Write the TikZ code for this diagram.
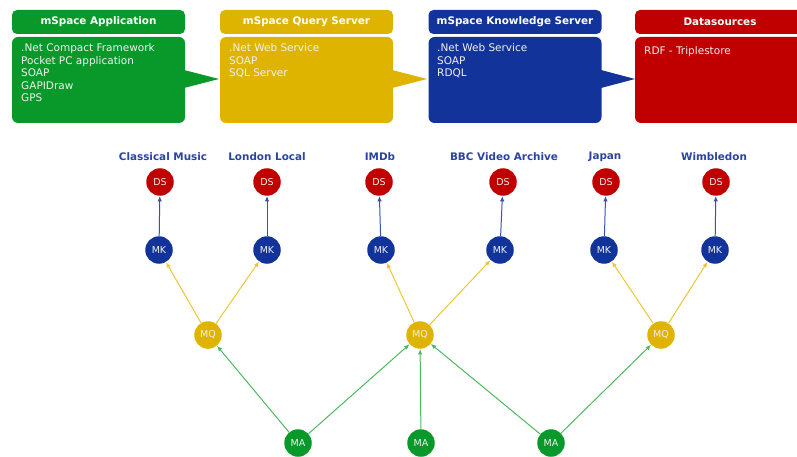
\documentclass[tikz,border=0pt]{standalone}
\usepackage{fontspec}
\setmainfont{DejaVu Sans}
\usetikzlibrary{arrows.meta}
\definecolor{cgreen}{HTML}{08992A}
\definecolor{cyellow}{HTML}{DFB400}
\definecolor{cblue}{HTML}{12339A}
\definecolor{cred}{HTML}{C00000}
\definecolor{lgreen}{HTML}{4DB85E}
\definecolor{lyellow}{HTML}{EEC634}
\definecolor{lblue}{HTML}{3552B0}
\definecolor{ctitle}{HTML}{2A44A0}
\definecolor{ctext}{HTML}{F0F0F0}
\tikzset{
  hdr/.style={rounded corners=5pt, minimum width=173pt, minimum height=24pt, inner sep=0pt,
    text=white, font=\fontsize{10.4}{12}\selectfont\bfseries},
  bodybox/.style={rounded corners=6pt, minimum width=173pt, minimum height=86pt, inner sep=0pt},
  bodytext/.style={anchor=north west, inner sep=0pt, text=ctext, align=left,
    font=\fontsize{10.5}{12.5}\selectfont},
  gnode/.style={circle, minimum size=27.5pt, inner sep=0pt, text=ctext,
    font=\fontsize{9.5}{10}\selectfont},
  ds/.style={gnode, fill=cred},
  mk/.style={gnode, fill=cblue},
  mq/.style={gnode, fill=cyellow},
  ma/.style={gnode, fill=cgreen},
  lab/.style={text=ctitle, font=\fontsize{10.4}{12}\selectfont\bfseries, inner sep=0pt},
  tip/.style={-{Latex[length=5.5pt,width=4.5pt]}},
  gline/.style={lgreen, line width=1pt, tip},
  yline/.style={lyellow, line width=1pt, tip},
  bline/.style={lblue, line width=1pt, tip},
}
\begin{document}
\begin{tikzpicture}[x=1pt,y=-1pt]
\useasboundingbox (0,0) rectangle (797,457);
\begin{scope}
\clip (0,0) rectangle (797,457);
% top boxes
\node[hdr, fill=cgreen] (ha) at (98.5,22) {mSpace Application};
\node[bodybox, fill=cgreen] (ba) at (98.5,80) {};
\node[hdr, fill=cyellow] (hq) at (306.5,22) {mSpace Query Server};
\node[bodybox, fill=cyellow] (bq) at (306.5,80) {};
\node[hdr, fill=cblue] (hk) at (515,22) {mSpace Knowledge Server};
\node[bodybox, fill=cblue] (bk) at (515,80) {};
\node[hdr, fill=cred, minimum width=180pt] (hd) at (725,22) {\hspace*{-10pt}Datasources};
\node[bodybox, fill=cred, minimum width=180pt] (bd) at (725,80) {};
% callouts
\fill[cgreen] (184,70) -- (219,79) -- (184,88) -- cycle;
\fill[cyellow] (392,70) -- (427,79) -- (392,88) -- cycle;
\fill[cblue] (601,70) -- (635,79) -- (601,88) -- cycle;
% body texts
\node[bodytext] (ta) at (21,43.5) {.Net Compact Framework\\Pocket PC application\\SOAP\\GAPIDraw\\GPS};
\node[bodytext] (tq) at (229,43.5) {.Net Web Service\\SOAP\\SQL Server};
\node[bodytext] (tk) at (437,43.5) {.Net Web Service\\SOAP\\RDQL};
\node[bodytext] (td) at (644,46) {RDF - Triplestore};
% labels
\node[lab] (l1) at (163,157) {Classical Music};
\node[lab] (l2) at (267,157) {London Local};
\node[lab] (l3) at (380,157) {IMDb};
\node[lab] (l4) at (504,157) {BBC Video Archive};
\node[lab] (l5) at (605,157) {Japan};
\node[lab] (l6) at (714,157) {Wimbledon};
% DS
\node[ds] (ds1) at (160,182) {DS};
\node[ds] (ds2) at (267,182) {DS};
\node[ds] (ds3) at (379,182) {DS};
\node[ds] (ds4) at (503,182) {DS};
\node[ds] (ds5) at (606,182) {DS};
\node[ds] (ds6) at (716,182) {DS};
% MK
\node[mk] (mk1) at (159,250) {MK};
\node[mk] (mk2) at (267,250) {MK};
\node[mk] (mk3) at (381,250) {MK};
\node[mk] (mk4) at (500,250) {MK};
\node[mk] (mk5) at (604,250) {MK};
\node[mk] (mk6) at (715,250) {MK};
% MQ
\node[mq] (mq1) at (208,335) {MQ};
\node[mq] (mq2) at (420,335) {MQ};
\node[mq] (mq3) at (661,335) {MQ};
% MA
\node[ma] (ma1) at (298,443) {MA};
\node[ma] (ma2) at (421,443) {MA};
\node[ma] (ma3) at (551,443) {MA};
% edges
\foreach \i in {1,...,6} \draw[bline] (mk\i) -- (ds\i);
\draw[yline] (mq1) -- (mk1);
\draw[yline] (mq1) -- (mk2);
\draw[yline] (mq2) -- (mk3);
\draw[yline] (mq2) -- (mk4);
\draw[yline] (mq3) -- (mk5);
\draw[yline] (mq3) -- (mk6);
\draw[gline] (ma1) -- (mq1);
\draw[gline] (ma1) -- (mq2);
\draw[gline] (ma2) -- (mq2);
\draw[gline] (ma3) -- (mq2);
\draw[gline] (ma3) -- (mq3);
\end{scope}
\end{tikzpicture}
\end{document}
